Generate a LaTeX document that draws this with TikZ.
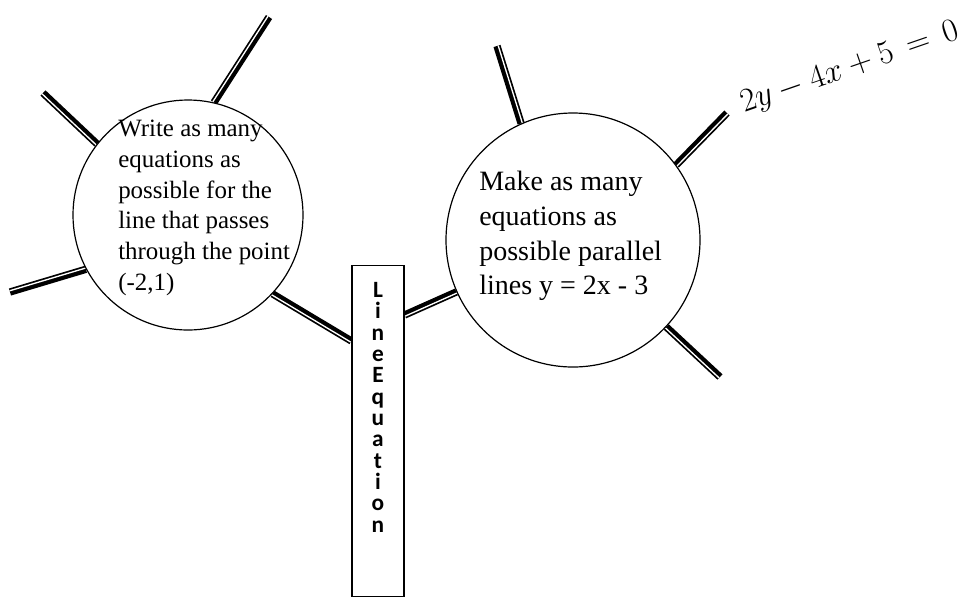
\documentclass[tikz,border=0pt]{standalone}
\usepackage{fontspec}
\setmainfont{Liberation Serif}
\newfontfamily\boxfont{Carlito}
\usetikzlibrary{calc,backgrounds}

%% double spoke: black band with a white slit, the slit shifted to one side
\newcommand{\spokeline}[3]{%
  \draw[spoke band] (#1) -- (#2);
  \draw[spoke gap]  ($(#1)!#3!90:(#2)$) -- ($(#2)!#3!-90:(#1)$);
}

\tikzset{
  spoke band/.style={line width=5.5pt, black},
  spoke gap/.style={line width=1pt, white},
  bubble/.style={circle, draw, line width=0.9pt, fill=white, inner sep=0pt},
}

\begin{document}
\begin{tikzpicture}[x=0.75pt, y=-0.75pt]
\useasboundingbox (0,0) rectangle (967,597);

%% ── Bubbles ──────────────────────────────────────────────────────────────────
\node[bubble, minimum size=172.5pt] (lcirc) at (188,215) {};
\node[bubble, minimum size=190.5pt] (rcirc) at (573,240) {};

\node[anchor=north west, align=left, inner sep=0pt,
      font=\fontsize{18.7}{23}\selectfont] (ltext) at (118,120)
  {Write as many\\equations as\\possible for the\\line that passes\\through the point\\(-2,1)};

\node[anchor=north west, align=left, inner sep=0pt,
      font=\fontsize{21}{26}\selectfont] (rtext) at (479,171)
  {Make as many\\equations as\\possible parallel\\lines y = 2x - 3};

%% ── Centre box ───────────────────────────────────────────────────────────────
\node[draw, fill=white, line width=0.9pt, inner sep=0pt, anchor=north,
      minimum width=39pt, minimum height=248pt] (eqbox) at (378,265) {};
\node[anchor=north, align=center, inner sep=0pt,
      font=\boxfont\fontsize{17.5}{16}\selectfont\bfseries] (eqword) at (378,282)
  {L\\i\\n\\e\\E\\q\\u\\a\\t\\i\\o\\n};

%% ── Example answer ───────────────────────────────────────────────────────────
\node[anchor=base west, rotate=19, inner sep=0pt,
      font=\fontsize{23}{27}\selectfont] (eqlabel) at (744,113)
  {$2y - 4x + 5 \,=\, 0$};

%% ── Spoke ends ───────────────────────────────────────────────────────────────
\coordinate (lA) at (269,17);
\coordinate (lB) at (43,93);
\coordinate (lC) at (10,292);
\coordinate (eqL) at ($(eqbox.north west)+(0,76)$);
\coordinate (eqR) at ($(eqbox.north east)+(0,50)$);
\coordinate (rF) at (497,46);
\coordinate (rG) at (727,113);
\coordinate (rH) at (720,377);

\begin{scope}[on background layer]
  \spokeline{lcirc.77}{lA}{0.95pt}
  \spokeline{lcirc.142}{lB}{0.95pt}
  \spokeline{lcirc.208}{lC}{-0.95pt}
  \spokeline{lcirc.317}{eqL}{-0.95pt}
  \spokeline{rcirc.204}{eqR}{0.95pt}
  \spokeline{rcirc.114}{rF}{-0.95pt}
  \spokeline{rcirc.36.5}{rG}{-0.95pt}
  \spokeline{rcirc.317}{rH}{-0.95pt}
\end{scope}

\end{tikzpicture}
\end{document}
